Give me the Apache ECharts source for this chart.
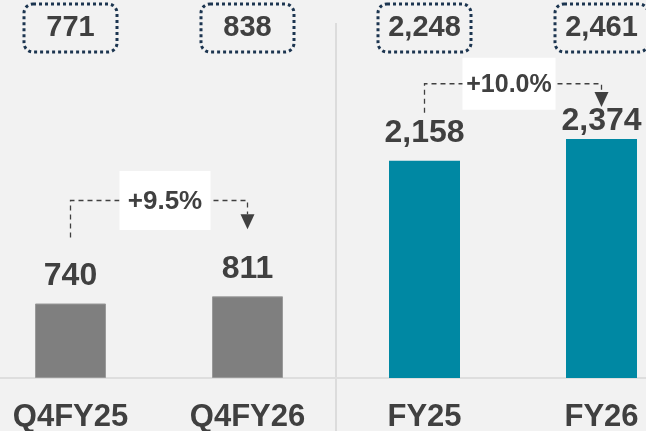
<!DOCTYPE html>
<html>
<head>
<meta charset="utf-8">
<style>
html, body { margin: 0; padding: 0; background: #f2f2f2; }
#chart { width: 646px; height: 431px; }
</style>
<script src="https://cdn.jsdelivr.net/npm/echarts@6/dist/echarts.min.js"></script>
</head>
<body>
<div id="chart"></div>
<script>
// data
const categories = ['Q4FY25', 'Q4FY26', 'FY25', 'FY26']
const actualValues = [740, 811, 2158, 2374]
const boxValues = [771, 838, 2248, 2461] // dotted boxes on top
const growthFrom = [0, 2]
const growthTo = [1, 3]
const growthLabels = ['+9.5%', '+10.0%']

const FONT = 'Arial, "Liberation Sans", sans-serif'
const TEXT = '#404040'
const barColors = ['#7f7f7f', '#7f7f7f', '#0088a3', '#0088a3']
const labelDist = [11, 11, 12, 2]
// pixel offsets above bar tops for the growth connectors
const connStyle = [
  { start: 66, level: 103, tip: 67, dx: 6, font: 26, w: 91, h: 59 },
  { start: 48, level: 77, tip: 32, dx: -4, font: 25, w: 93, h: 52 }
]

const fmt = v => Number(v).toLocaleString('en-US')

const barData = actualValues.map((v, i) => ({
  value: v,
  itemStyle: {
    color: barColors[i],
    borderColor: i < 2 ? '#9a9a9a' : barColors[i],
    borderWidth: i < 2 ? 1 : 0
  },
  label: { distance: labelDist[i] }
}))

const growthData = growthFrom.map((f, i) => [f, growthTo[i], actualValues[f], actualValues[growthTo[i]], i])

function renderGrowth(params, api) {
  const s = connStyle[params.dataIndex]
  const a = api.coord([api.value(0), api.value(2)])
  const b = api.coord([api.value(1), api.value(3)])
  const ly = a[1] - s.level
  const tipY = b[1] - s.tip
  const ah = 15
  const mx = (a[0] + b[0]) / 2 + s.dx
  const dash = { stroke: TEXT, lineWidth: 1.3, lineDash: [5, 4], fill: null }
  return {
    type: 'group',
    children: [
      { type: 'polyline', shape: { points: [[a[0], a[1] - s.start], [a[0], ly], [b[0], ly], [b[0], tipY - ah]] }, style: dash },
      { type: 'polygon', shape: { points: [[b[0] - 7, tipY - ah], [b[0] + 7, tipY - ah], [b[0], tipY]] }, style: { fill: TEXT } },
      { type: 'rect', shape: { x: mx - s.w / 2, y: ly - s.h / 2, width: s.w, height: s.h }, style: { fill: '#ffffff' } },
      {
        type: 'text',
        style: {
          x: mx, y: ly + 1, text: growthLabels[api.value(4)],
          align: 'center', verticalAlign: 'middle',
          font: 'bold ' + s.font + 'px ' + FONT, fill: TEXT
        }
      }
    ]
  }
}

const option = {
  backgroundColor: '#f2f2f2',
  animation: false,
  grid: { left: -18, width: 708, top: 76, bottom: 53, containLabel: false, outerBoundsMode: 'none' },
  xAxis: [
    {
      type: 'category',
      data: categories,
      position: 'bottom',
      axisLine: { show: true, lineStyle: { color: '#dedede', width: 2 } },
      axisTick: { show: false },
      axisLabel: { color: TEXT, fontFamily: FONT, fontWeight: 'bold', fontSize: 31, margin: 24 }
    },
    {
      type: 'category',
      data: boxValues.map(fmt),
      position: 'top',
      axisLine: { show: false },
      axisTick: { show: false },
      axisLabel: {
        color: TEXT, fontFamily: FONT, fontWeight: 'bold', fontSize: 29,
        margin: 24, width: 93, align: 'center', lineHeight: 34, padding: [7, 0],
        borderColor: '#1c3550', borderWidth: 3, borderType: 'dotted', borderRadius: 9
      }
    }
  ],
  yAxis: {
    type: 'value', min: 0, max: 3000,
    show: false, splitLine: { show: false }
  },
  graphic: [
    { type: 'line', shape: { x1: 336, y1: 23, x2: 336, y2: 431 }, style: { stroke: '#dcdcdc', lineWidth: 2 }, z: 0 }
  ],
  series: [
    {
      type: 'bar',
      data: barData,
      barWidth: 71,
      label: {
        show: true, position: 'top', formatter: p => fmt(p.value),
        color: TEXT, fontFamily: FONT, fontWeight: 'bold', fontSize: 32
      }
    },
    {
      type: 'custom',
      renderItem: renderGrowth,
      data: growthData,
      z: 5
    }
  ]
}

const myChart = echarts.init(document.getElementById('chart'))
myChart.setOption(option)
window.addEventListener('resize', () => {
  myChart.resize()
})
</script>
</body>
</html>
